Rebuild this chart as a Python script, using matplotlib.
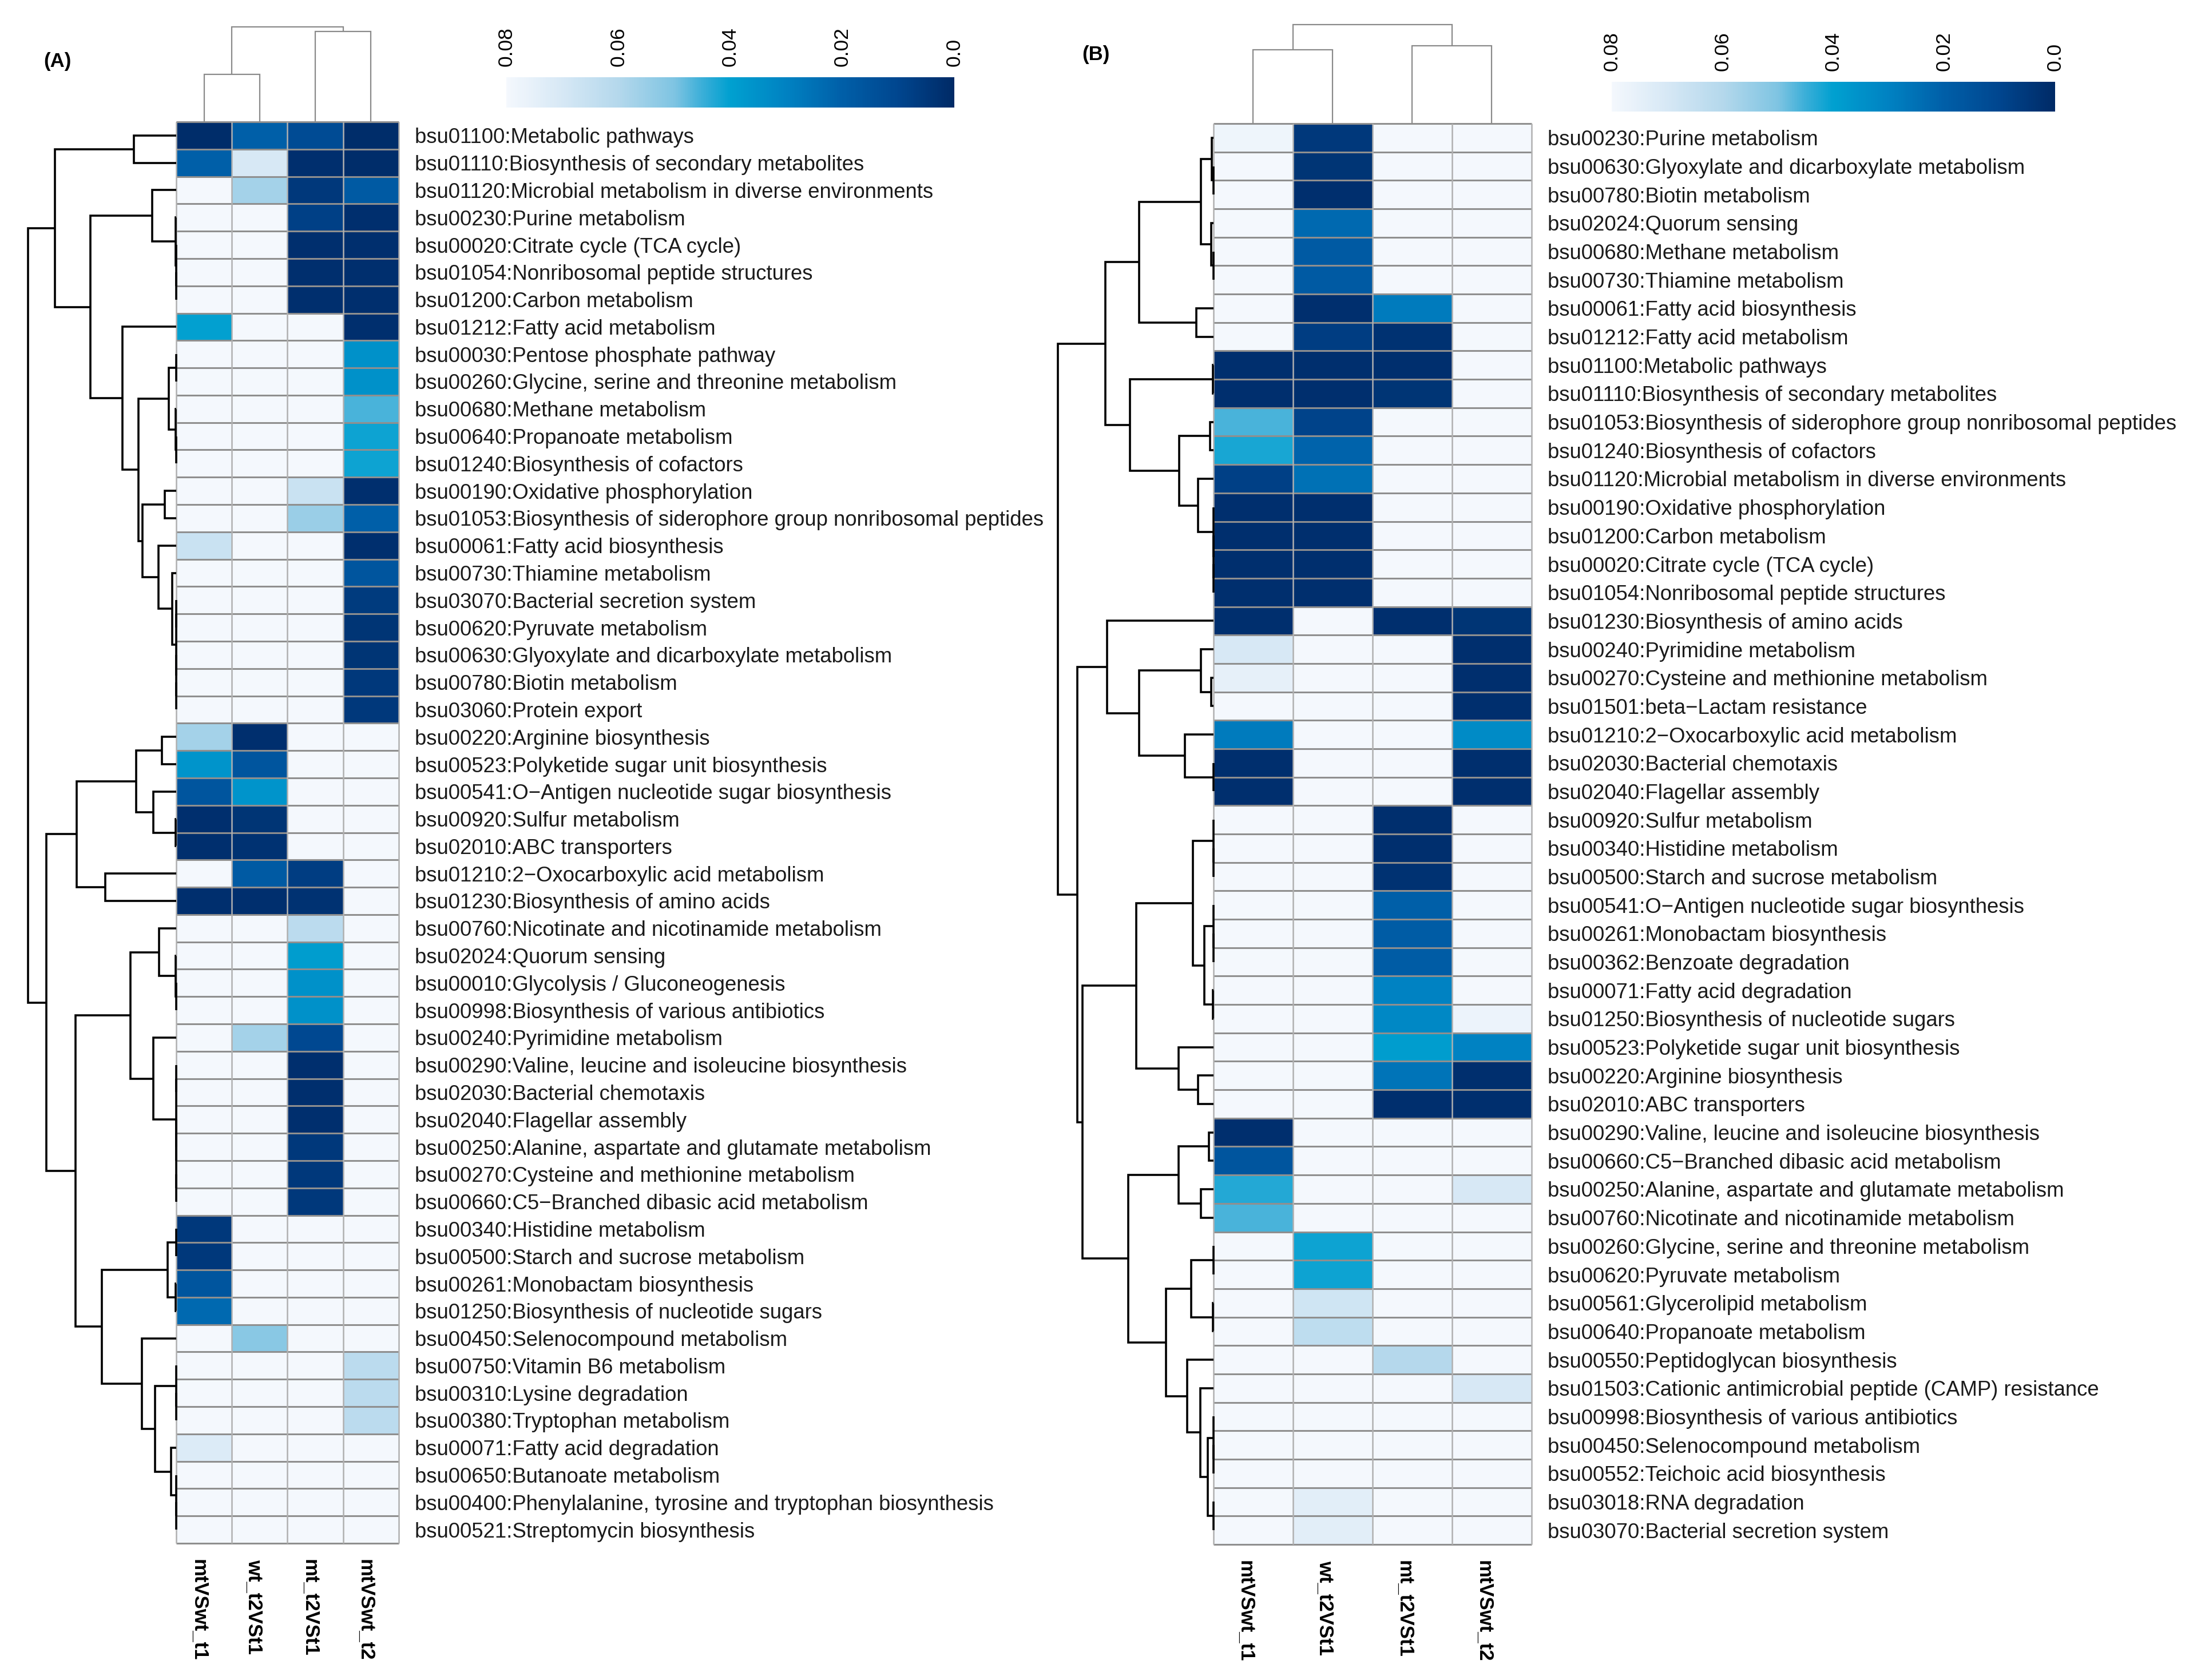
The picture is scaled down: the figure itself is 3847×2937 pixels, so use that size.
import numpy as np
import matplotlib
matplotlib.use('Agg')
import matplotlib.pyplot as plt
from matplotlib.colors import LinearSegmentedColormap, Normalize
from matplotlib.cm import ScalarMappable

plt.rcParams['font.family'] = ['Liberation Sans', 'DejaVu Sans']

W, H = 3848, 2937
NS = 1.0  # not significant -> drawn with the lightest colour

columns = ['mtVSwt_t1', 'wt_t2VSt1', 'mt_t2VSt1', 'mtVSwt_t2']

# ---------------- panel A ----------------
terms_a = [
    'bsu01100:Metabolic pathways',
    'bsu01110:Biosynthesis of secondary metabolites',
    'bsu01120:Microbial metabolism in diverse environments',
    'bsu00230:Purine metabolism',
    'bsu00020:Citrate cycle (TCA cycle)',
    'bsu01054:Nonribosomal peptide structures',
    'bsu01200:Carbon metabolism',
    'bsu01212:Fatty acid metabolism',
    'bsu00030:Pentose phosphate pathway',
    'bsu00260:Glycine, serine and threonine metabolism',
    'bsu00680:Methane metabolism',
    'bsu00640:Propanoate metabolism',
    'bsu01240:Biosynthesis of cofactors',
    'bsu00190:Oxidative phosphorylation',
    'bsu01053:Biosynthesis of siderophore group nonribosomal peptides',
    'bsu00061:Fatty acid biosynthesis',
    'bsu00730:Thiamine metabolism',
    'bsu03070:Bacterial secretion system',
    'bsu00620:Pyruvate metabolism',
    'bsu00630:Glyoxylate and dicarboxylate metabolism',
    'bsu00780:Biotin metabolism',
    'bsu03060:Protein export',
    'bsu00220:Arginine biosynthesis',
    'bsu00523:Polyketide sugar unit biosynthesis',
    'bsu00541:O\u2212Antigen nucleotide sugar biosynthesis',
    'bsu00920:Sulfur metabolism',
    'bsu02010:ABC transporters',
    'bsu01210:2\u2212Oxocarboxylic acid metabolism',
    'bsu01230:Biosynthesis of amino acids',
    'bsu00760:Nicotinate and nicotinamide metabolism',
    'bsu02024:Quorum sensing',
    'bsu00010:Glycolysis / Gluconeogenesis',
    'bsu00998:Biosynthesis of various antibiotics',
    'bsu00240:Pyrimidine metabolism',
    'bsu00290:Valine, leucine and isoleucine biosynthesis',
    'bsu02030:Bacterial chemotaxis',
    'bsu02040:Flagellar assembly',
    'bsu00250:Alanine, aspartate and glutamate metabolism',
    'bsu00270:Cysteine and methionine metabolism',
    'bsu00660:C5\u2212Branched dibasic acid metabolism',
    'bsu00340:Histidine metabolism',
    'bsu00500:Starch and sucrose metabolism',
    'bsu00261:Monobactam biosynthesis',
    'bsu01250:Biosynthesis of nucleotide sugars',
    'bsu00450:Selenocompound metabolism',
    'bsu00750:Vitamin B6 metabolism',
    'bsu00310:Lysine degradation',
    'bsu00380:Tryptophan metabolism',
    'bsu00071:Fatty acid degradation',
    'bsu00650:Butanoate metabolism',
    'bsu00400:Phenylalanine, tyrosine and tryptophan biosynthesis',
    'bsu00521:Streptomycin biosynthesis',
]

pvals_a = [
    [0.001, 0.020, 0.012, 0.001],
    [0.020, 0.070, 0.002, 0.001],
    [NS, 0.057, 0.005, 0.018],
    [NS, NS, 0.008, 0.002],
    [NS, NS, 0.002, 0.002],
    [NS, NS, 0.002, 0.002],
    [NS, NS, 0.002, 0.002],
    [0.040, NS, NS, 0.002],
    [NS, NS, NS, 0.035],
    [NS, NS, NS, 0.035],
    [NS, NS, NS, 0.046],
    [NS, NS, NS, 0.041],
    [NS, NS, NS, 0.041],
    [NS, NS, 0.066, 0.002],
    [NS, NS, 0.055, 0.020],
    [0.066, NS, NS, 0.002],
    [NS, NS, NS, 0.016],
    [NS, NS, NS, 0.006],
    [NS, NS, NS, 0.004],
    [NS, NS, NS, 0.004],
    [NS, NS, NS, 0.005],
    [NS, NS, NS, 0.005],
    [0.057, 0.002, NS, NS],
    [0.036, 0.016, NS, NS],
    [0.016, 0.036, NS, NS],
    [0.002, 0.004, NS, NS],
    [0.002, 0.003, NS, NS],
    [NS, 0.018, 0.007, NS],
    [0.002, 0.002, 0.003, NS],
    [NS, NS, 0.062, NS],
    [NS, NS, 0.039, NS],
    [NS, NS, 0.035, NS],
    [NS, NS, 0.035, NS],
    [NS, 0.057, 0.011, NS],
    [NS, NS, 0.002, NS],
    [NS, NS, 0.002, NS],
    [NS, NS, 0.002, NS],
    [NS, NS, 0.005, NS],
    [NS, NS, 0.005, NS],
    [NS, NS, 0.005, NS],
    [0.005, NS, NS, NS],
    [0.005, NS, NS, NS],
    [0.016, NS, NS, NS],
    [0.023, NS, NS, NS],
    [NS, 0.052, NS, NS],
    [NS, NS, NS, 0.062],
    [NS, NS, NS, 0.062],
    [NS, NS, NS, 0.062],
    [0.072, NS, NS, NS],
    [NS, NS, NS, NS],
    [NS, NS, NS, NS],
    [NS, NS, NS, NS],
]

# merge trees: (left, right, height); leaves are row / column indices
a_row_tree = (
    ((0, 1, 74),
     ((2, (3, (4, (5, 6, 0), 0), 1), 42),
      (7, (((8, 9, 0), (10, (11, 12, 0), 1), 13),
           ((13, 14, 20),
            (15, (16, ((17, 18, 0), (19, (20, 21, 0), 0), 0), 7.5), 31), 59), 66), 94), 150), 212),
    ((((22, 23, 25), (24, (25, 26, 1), 40), 70), (27, 28, 124), 174),
     (((29, (30, (31, 32, 0), 1), 30),
       (33, ((34, 35, 0), ((36, 37, 0), (38, 39, 0), 0), 0), 40), 80),
      (((40, 41, 0), (42, 43, 1), 15),
       (44, ((45, (46, 47, 0), 0), (48, (49, (50, 51, 0), 0), 9), 37), 60), 130), 176), 227),
    259)
a_col_tree = ((0, 1, 0.50), (2, 3, 0.95), 1.0)

# ---------------- panel B ----------------
terms_b = [
    'bsu00230:Purine metabolism',
    'bsu00630:Glyoxylate and dicarboxylate metabolism',
    'bsu00780:Biotin metabolism',
    'bsu02024:Quorum sensing',
    'bsu00680:Methane metabolism',
    'bsu00730:Thiamine metabolism',
    'bsu00061:Fatty acid biosynthesis',
    'bsu01212:Fatty acid metabolism',
    'bsu01100:Metabolic pathways',
    'bsu01110:Biosynthesis of secondary metabolites',
    'bsu01053:Biosynthesis of siderophore group nonribosomal peptides',
    'bsu01240:Biosynthesis of cofactors',
    'bsu01120:Microbial metabolism in diverse environments',
    'bsu00190:Oxidative phosphorylation',
    'bsu01200:Carbon metabolism',
    'bsu00020:Citrate cycle (TCA cycle)',
    'bsu01054:Nonribosomal peptide structures',
    'bsu01230:Biosynthesis of amino acids',
    'bsu00240:Pyrimidine metabolism',
    'bsu00270:Cysteine and methionine metabolism',
    'bsu01501:beta\u2212Lactam resistance',
    'bsu01210:2\u2212Oxocarboxylic acid metabolism',
    'bsu02030:Bacterial chemotaxis',
    'bsu02040:Flagellar assembly',
    'bsu00920:Sulfur metabolism',
    'bsu00340:Histidine metabolism',
    'bsu00500:Starch and sucrose metabolism',
    'bsu00541:O\u2212Antigen nucleotide sugar biosynthesis',
    'bsu00261:Monobactam biosynthesis',
    'bsu00362:Benzoate degradation',
    'bsu00071:Fatty acid degradation',
    'bsu01250:Biosynthesis of nucleotide sugars',
    'bsu00523:Polyketide sugar unit biosynthesis',
    'bsu00220:Arginine biosynthesis',
    'bsu02010:ABC transporters',
    'bsu00290:Valine, leucine and isoleucine biosynthesis',
    'bsu00660:C5\u2212Branched dibasic acid metabolism',
    'bsu00250:Alanine, aspartate and glutamate metabolism',
    'bsu00760:Nicotinate and nicotinamide metabolism',
    'bsu00260:Glycine, serine and threonine metabolism',
    'bsu00620:Pyruvate metabolism',
    'bsu00561:Glycerolipid metabolism',
    'bsu00640:Propanoate metabolism',
    'bsu00550:Peptidoglycan biosynthesis',
    'bsu01503:Cationic antimicrobial peptide (CAMP) resistance',
    'bsu00998:Biosynthesis of various antibiotics',
    'bsu00450:Selenocompound metabolism',
    'bsu00552:Teichoic acid biosynthesis',
    'bsu03018:RNA degradation',
    'bsu03070:Bacterial secretion system',
]

pvals_b = [
    [0.078, 0.005, NS, NS],
    [NS, 0.004, NS, NS],
    [NS, 0.002, NS, NS],
    [NS, 0.023, NS, NS],
    [NS, 0.018, NS, NS],
    [NS, 0.018, NS, NS],
    [NS, 0.002, 0.028, NS],
    [NS, 0.007, 0.003, NS],
    [0.002, 0.002, 0.002, NS],
    [0.002, 0.002, 0.004, NS],
    [0.046, 0.009, NS, NS],
    [0.042, 0.021, NS, NS],
    [0.008, 0.025, NS, NS],
    [0.002, 0.002, NS, NS],
    [0.002, 0.002, NS, NS],
    [0.002, 0.002, NS, NS],
    [0.002, 0.002, NS, NS],
    [0.002, NS, 0.002, 0.004],
    [0.070, NS, NS, 0.002],
    [0.075, NS, NS, 0.002],
    [NS, NS, NS, 0.002],
    [0.028, NS, NS, 0.033],
    [0.002, NS, NS, 0.002],
    [0.002, NS, NS, 0.002],
    [NS, NS, 0.002, NS],
    [NS, NS, 0.002, NS],
    [NS, NS, 0.003, NS],
    [NS, NS, 0.020, NS],
    [NS, NS, 0.019, NS],
    [NS, NS, 0.019, NS],
    [NS, NS, 0.030, NS],
    [NS, NS, 0.032, 0.077],
    [NS, NS, 0.039, 0.030],
    [NS, NS, 0.026, 0.002],
    [NS, NS, 0.002, 0.002],
    [0.002, NS, NS, NS],
    [0.016, NS, NS, NS],
    [0.043, NS, NS, 0.070],
    [0.046, NS, NS, NS],
    [NS, 0.041, NS, NS],
    [NS, 0.041, NS, NS],
    [NS, 0.068, NS, NS],
    [NS, 0.063, NS, NS],
    [NS, NS, 0.060, NS],
    [NS, NS, NS, 0.070],
    [NS, NS, NS, NS],
    [NS, NS, NS, NS],
    [NS, NS, NS, NS],
    [NS, 0.074, NS, NS],
    [NS, 0.074, NS, NS],
]

b_row_tree = (
    ((((0, (1, 2, 0), 3), (3, (4, 5, 0), 4), 22), (6, 7, 30), 130),
     ((8, 9, 1),
      ((10, 11, 6), (12, (13, (14, (15, 16, 0), 0), 0), 27), 60), 146), 189),
    ((17, ((18, (19, 20, 4), 22), (21, (22, 23, 0), 50), 130), 186),
     ((((24, (25, 26, 0), 0), ((27, (28, 29, 0), 0), (30, 31, 1), 16), 36),
       (32, (33, 34, 27), 61), 135),
      (((35, 36, 8), (37, 38, 22), 61),
       (((39, 40, 0), (41, 42, 1), 39),
        (43, (44, ((45, (46, 47, 0), 0), (48, 49, 0), 10), 23), 46), 83), 149), 229), 238),
    272)
b_col_tree = ((0, 1, 0.746), (2, 3, 0.786), 1.0)

cbar_ticks = [0.08, 0.06, 0.04, 0.02, 0.0]
cbar_labels = ['0.08', '0.06', '0.04', '0.02', '0.0']

# colour scale: 0 -> navy, 0.08 -> near white
cmap = LinearSegmentedColormap.from_list('pblues', [
    (0.0, '#002a66'), (0.125, '#00468f'), (0.25, '#005fa8'), (0.375, '#0082c2'),
    (0.5, '#00a0d0'), (0.5625, '#3aaed8'), (0.625, '#7ec4e2'), (0.75, '#b4d8ec'),
    (0.875, '#d6e8f5'), (1.0, '#f4f8fd')], N=256)
cmap.set_over('#f4f8fd')
norm = Normalize(0, 0.08)


def rect(x0, y0, x1, y1):
    # pixel box (top-left origin) -> figure fraction
    return [x0 / W, 1 - y1 / H, (x1 - x0) / W, (y1 - y0) / H]


def draw_tree(ax, node, orient, color, lw):
    if isinstance(node, int):
        return node + 0.5, 0.0
    left, right, h = node
    p1, h1 = draw_tree(ax, left, orient, color, lw)
    p2, h2 = draw_tree(ax, right, orient, color, lw)
    if orient == 'left':
        ax.plot([h1, h, h, h2], [p1, p1, p2, p2], color=color, lw=lw,
                clip_on=False, solid_joinstyle='miter', solid_capstyle='butt')
    else:
        ax.plot([p1, p1, p2, p2], [h1, h, h, h2], color=color, lw=lw,
                clip_on=False, solid_joinstyle='miter', solid_capstyle='butt')
    return (p1 + p2) / 2, h


def panel(fig, terms, pvals, row_tree, col_tree, box, dendro_x0, col_top, cbar_box, tag, tag_xy):
    hx0, hy0, hx1, hy1 = box
    data = np.array(pvals)
    nrow = len(terms)

    ax = fig.add_axes(rect(hx0, hy0, hx1, hy1))
    ax.pcolormesh(np.arange(5), np.arange(nrow + 1), data, cmap=cmap, norm=norm)
    ax.hlines(np.arange(nrow + 1), 0, 4, color='#8f8f8f', lw=2.2, clip_on=False)
    ax.vlines(np.arange(5), 0, nrow, color='#b0b0b0', lw=1.8, clip_on=False)
    ax.set_xlim(0, 4)
    ax.set_ylim(nrow, 0)
    for s in ax.spines.values():
        s.set_visible(False)
    ax.yaxis.tick_right()
    ax.set_yticks(np.arange(nrow) + 0.5)
    ax.set_yticklabels(terms, fontsize=26.3, color='#1a1a1a')
    ax.set_xticks(np.arange(4) + 0.4)
    ax.set_xticklabels(columns, rotation=270, fontsize=25, fontweight='bold',
                       ha='center', va='top')
    ax.tick_params(axis='y', length=0, pad=20)
    ax.tick_params(axis='x', length=0, pad=20)

    # row dendrogram, one height unit = one pixel
    dax = fig.add_axes(rect(dendro_x0, hy0, hx0, hy1))
    draw_tree(dax, row_tree, 'left', 'black', 2.6)
    dax.set_xlim(hx0 - dendro_x0, 0)
    dax.set_ylim(nrow, 0)
    dax.axis('off')

    # column dendrogram
    cax = fig.add_axes(rect(hx0, col_top, hx1, hy0))
    draw_tree(cax, col_tree, 'top', '#8a8a8a', 1.6)
    cax.set_xlim(0, 4)
    cax.set_ylim(0, 1.0)
    cax.axis('off')

    # colour key
    kax = fig.add_axes(rect(*cbar_box))
    cb = fig.colorbar(ScalarMappable(norm=norm, cmap=cmap), cax=kax, orientation='horizontal')
    cb.outline.set_visible(False)
    kax.invert_xaxis()
    kax.xaxis.set_ticks_position('top')
    cb.set_ticks(cbar_ticks)
    cb.set_ticklabels(cbar_labels)
    kax.tick_params(axis='x', length=0, pad=14, labelsize=25.5, labelrotation=90)
    for t in kax.get_xticklabels():
        t.set_va('bottom')

    fig.text(tag_xy[0] / W, 1 - tag_xy[1] / H, tag, fontsize=25, fontweight='bold',
             ha='center', va='center')


fig = plt.figure(figsize=(W / 100, H / 100), dpi=100)
panel(fig, terms_a, pvals_a, a_row_tree, a_col_tree, (308, 213, 697, 2698), 30, 47,
      (885, 135, 1668, 188), '(A)', (100, 108))
panel(fig, terms_b, pvals_b, b_row_tree, b_col_tree, (2121, 216, 2677, 2700), 1830, 43,
      (2817, 143, 3592, 195), '(B)', (1915, 95))
fig.savefig('out.png', dpi=100, facecolor='white')
